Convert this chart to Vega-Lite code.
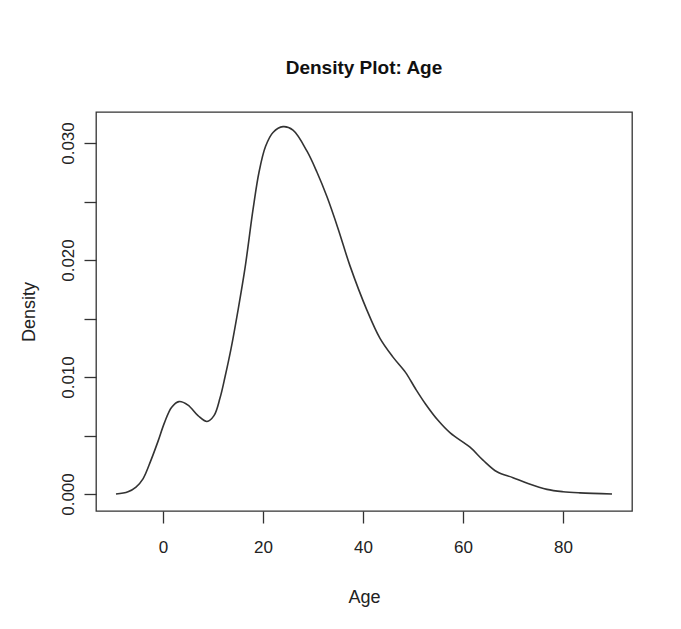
{
  "$schema": "https://vega.github.io/schema/vega-lite/v6.json",
  "width": 536,
  "height": 399,
  "autosize": {"type": "none"},
  "padding": {"left": 96, "top": 112, "right": 49, "bottom": 118},
  "background": "white",
  "title": {
    "text": "Density Plot: Age",
    "fontSize": 19,
    "font": "Liberation Sans",
    "fontWeight": "bold",
    "color": "#111",
    "anchor": "middle",
    "offset": 34
  },
  "config": {
    "view": {"stroke": "#333", "strokeWidth": 1.3},
    "axis": {
      "labelFont": "Liberation Sans",
      "titleFont": "Liberation Sans",
      "labelColor": "#222",
      "titleColor": "#222",
      "tickColor": "#333",
      "tickWidth": 1.3,
      "grid": false,
      "domain": false,
      "titleFontWeight": "normal"
    }
  },
  "data": {
    "values": [
      {"age": -9.4, "density": 0.0000},
      {"age": -7, "density": 0.0002},
      {"age": -5.4, "density": 0.0006},
      {"age": -4, "density": 0.0013},
      {"age": -2.4, "density": 0.0029},
      {"age": -1, "density": 0.0045},
      {"age": 0.3, "density": 0.0061},
      {"age": 1.7, "density": 0.0074},
      {"age": 3.2, "density": 0.0079},
      {"age": 5, "density": 0.0076},
      {"age": 7, "density": 0.0067},
      {"age": 8.8, "density": 0.0062},
      {"age": 10.2, "density": 0.0067},
      {"age": 11.4, "density": 0.0082},
      {"age": 12.4, "density": 0.0100},
      {"age": 13.6, "density": 0.0124},
      {"age": 15, "density": 0.0157},
      {"age": 16.4, "density": 0.0193},
      {"age": 18, "density": 0.0243},
      {"age": 19.2, "density": 0.0275},
      {"age": 20.5, "density": 0.0297},
      {"age": 22, "density": 0.0309},
      {"age": 24, "density": 0.0314},
      {"age": 26, "density": 0.0311},
      {"age": 28.8, "density": 0.0293},
      {"age": 30.8, "density": 0.0275},
      {"age": 32.8, "density": 0.0254},
      {"age": 35, "density": 0.0227},
      {"age": 37.4, "density": 0.0195},
      {"age": 40.8, "density": 0.0157},
      {"age": 43.4, "density": 0.0133},
      {"age": 46, "density": 0.0117},
      {"age": 48.5, "density": 0.0104},
      {"age": 50.5, "density": 0.0090},
      {"age": 52.5, "density": 0.0077},
      {"age": 55, "density": 0.0063},
      {"age": 57.5, "density": 0.0052},
      {"age": 61.4, "density": 0.0040},
      {"age": 64, "density": 0.0029},
      {"age": 66.8, "density": 0.0019},
      {"age": 70, "density": 0.0014},
      {"age": 73, "density": 0.0009},
      {"age": 76.8, "density": 0.0004},
      {"age": 80, "density": 0.0002},
      {"age": 83.4, "density": 0.0001},
      {"age": 89.8, "density": 0.0000}
    ]
  },
  "mark": {"type": "line", "color": "#333", "strokeWidth": 1.6, "interpolate": "catmull-rom"},
  "encoding": {
    "x": {
      "field": "age",
      "type": "quantitative",
      "scale": {"domain": [-13.4, 93.8], "nice": false, "zero": false},
      "axis": {
        "title": "Age",
        "values": [0, 20, 40, 60, 80],
        "tickSize": 12,
        "labelFontSize": 17,
        "labelPadding": 16,
        "titleFontSize": 18,
        "titlePadding": 33
      }
    },
    "y": {
      "field": "density",
      "type": "quantitative",
      "scale": {"domain": [-0.00145, 0.03265], "nice": false, "zero": false},
      "axis": {
        "title": "Density",
        "values": [0, 0.005, 0.01, 0.015, 0.02, 0.025, 0.03],
        "labelExpr": "round(datum.value * 200) % 2 == 0 ? format(datum.value, '.3f') : ''",
        "tickSize": 12,
        "labelAngle": -90,
        "labelAlign": "center",
        "labelBaseline": "bottom",
        "labelFontSize": 17,
        "labelPadding": 7,
        "titleFontSize": 18,
        "titlePadding": 21
      }
    }
  }
}
